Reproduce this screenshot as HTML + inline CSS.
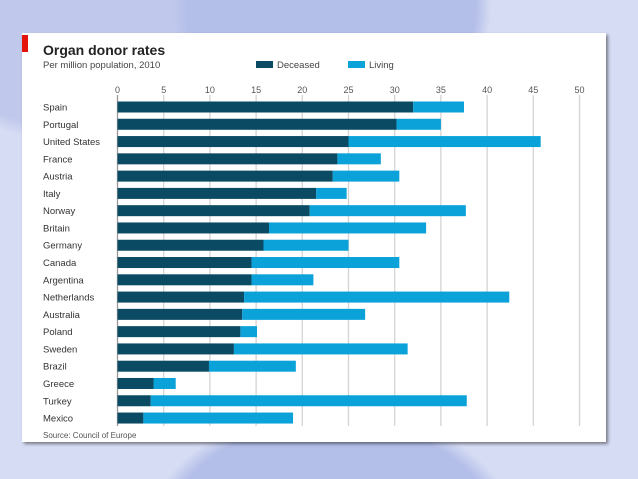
<!DOCTYPE html>
<html style="margin:0;width:638px;height:479px;overflow:hidden"><head><meta charset="utf-8"><style>
html,body{margin:0;padding:0;width:638px;height:479px;overflow:hidden}
body{position:relative;background:#d3d9f2;font-family:"Liberation Sans",sans-serif}
svg{display:block}
#bg{position:absolute;left:0;top:0}
#panel{position:absolute;left:22px;top:33px;width:584px;height:409px;background:#fff;box-shadow:2px 2px 3px rgba(0,0,0,.45)}
</style></head><body>
<svg id="bg" width="638" height="479">
<defs>
<radialGradient id="g1" cx="0.13" cy="0" r="0.3"><stop offset="0.9" stop-color="#c0c9ec"/><stop offset="1" stop-color="#c0c9ec" stop-opacity="0"/></radialGradient>
<radialGradient id="g2" cx="0.52" cy="0.02" r="0.25"><stop offset="0.9" stop-color="#b3bee9"/><stop offset="1" stop-color="#b3bee9" stop-opacity="0"/></radialGradient>
<radialGradient id="g3" cx="0.52" cy="1.15" r="0.3"><stop offset="0.9" stop-color="#b3bee9"/><stop offset="1" stop-color="#b3bee9" stop-opacity="0"/></radialGradient>
</defs>
<rect width="638" height="479" fill="#d6dcf3"/>
<rect width="638" height="479" fill="url(#g1)"/>
<rect width="638" height="479" fill="url(#g2)"/>
<rect width="638" height="479" fill="url(#g3)"/>
</svg>
<div id="panel"></div>
<svg width="638" height="479" style="position:absolute;left:0;top:0" id="chart">
<rect x="22" y="35" width="6" height="17" fill="#e3120b"/>
<text x="43" y="55" font-size="14" font-weight="bold" fill="#222">Organ donor rates</text>
<text x="43" y="68" font-size="9.5" fill="#444">Per million population, 2010</text>
<rect x="256" y="61" width="17" height="7" fill="#0b4a63"/>
<text x="277" y="68" font-size="9.5" fill="#444">Deceased</text>
<rect x="348" y="61" width="17" height="7" fill="#0aa2d8"/>
<text x="369" y="68" font-size="9.5" fill="#444">Living</text>
<g id="grid"></g><g id="bars"></g>
<text x="43" y="438" font-size="8" fill="#555">Source: Council of Europe</text>
</svg>
<script>
const countries=["Spain","Portugal","United States","France","Austria","Italy","Norway","Britain","Germany","Canada","Argentina","Netherlands","Australia","Poland","Sweden","Brazil","Greece","Turkey","Mexico"];
const deceased=[32,30.2,25,23.8,23.3,21.5,20.8,16.4,15.8,14.5,14.5,13.7,13.5,13.3,12.6,9.9,3.9,3.6,2.8];
const living=[5.5,4.8,20.8,4.7,7.2,3.3,16.9,17,9.2,16,6.7,28.7,13.3,1.8,18.8,9.4,2.4,34.2,16.2];
const ticks=[0,5,10,15,20,25,30,35,40,45,50];
const NS="http://www.w3.org/2000/svg";
const x=v=>117.5+v*9.24;
const y=i=>101.5+i*17.28;
const grid=document.getElementById('grid'),bars=document.getElementById('bars');
function mk(tag,at,par){const e=document.createElementNS(NS,tag);for(const k in at)e.setAttribute(k,at[k]);par.appendChild(e);return e;}
ticks.forEach(t=>{
  const l=mk('line',{x1:x(t),x2:x(t),y1:95,y2:426,stroke:t===0?'#999':'#d4d4d4','stroke-width':1.3},grid);
  
  
  const tx=mk('text',{x:x(t),y:93,'font-size':9,fill:'#555','text-anchor':'middle'},grid);
  tx.textContent=t;
  
  
});
countries.forEach((c,i)=>{
  const lb=mk('text',{x:43,y:y(i)+9,'font-size':9.5,fill:'#333'},bars);
  lb.textContent=c;
  
  
  const d=mk('rect',{x:x(0),y:y(i),width:x(deceased[i])-x(0),height:11,fill:'#0b4a63'},bars);
  
  
  const lv=mk('rect',{x:x(deceased[i]),y:y(i),width:x(deceased[i]+living[i])-x(deceased[i]),height:11,fill:'#0aa2d8'},bars);
  
  
});
</script>
</body></html>
